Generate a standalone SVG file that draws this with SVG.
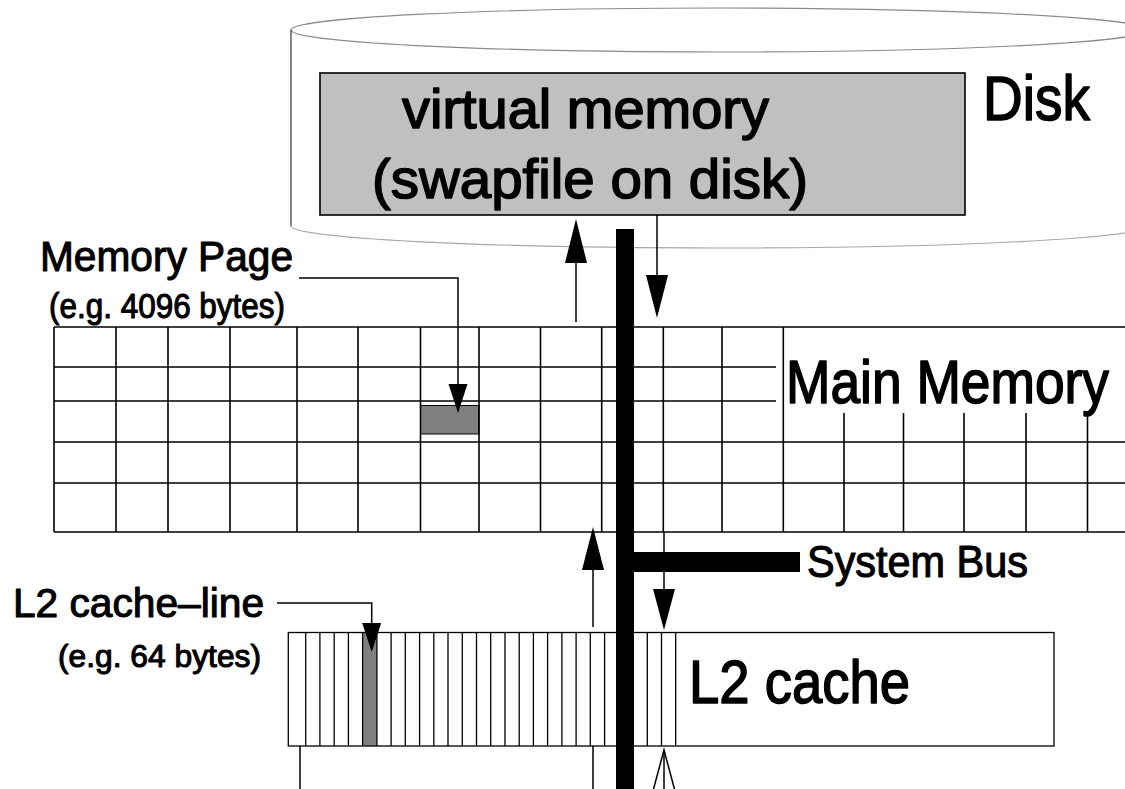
<svg xmlns="http://www.w3.org/2000/svg" width="1125" height="789" viewBox="0 0 1125 789">
<style>
.t{font-family:"Liberation Sans Narrow","Liberation Sans",Arial,sans-serif;fill:#000;stroke:#000;stroke-width:1.6;stroke-linejoin:round}
.sm{stroke-width:1.1}
.g{stroke:#000;stroke-width:1.6;fill:none}
.s{stroke:#000;stroke-width:1.3;fill:none}
.ln{stroke:#000;stroke-width:1.5;fill:none}
.ah{fill:#000;stroke:none}
</style>
<rect width="1125" height="789" fill="#fff"/>
<g id="disk">
<ellipse cx="719" cy="30" rx="428" ry="22" fill="none" stroke="#8a8a8a" stroke-width="1.2"/>
<path d="M291,30 V226" stroke="#333" stroke-width="1.2" fill="none"/>
<path d="M291,226 A428,22 0 0 0 1147,226" stroke="#a8a8a8" stroke-width="1.2" fill="none"/>
<text class="t" x="983" y="120" font-size="63" textLength="107" lengthAdjust="spacingAndGlyphs">Disk</text>
</g>
<g id="virtual-memory">
<rect x="320" y="73" width="645" height="142" fill="#c0c0c0" stroke="#000" stroke-width="1.6"/>
<text class="t" x="402" y="128" font-size="56" textLength="367" lengthAdjust="spacingAndGlyphs">virtual memory</text>
<text class="t" x="372" y="198" font-size="56" textLength="436" lengthAdjust="spacingAndGlyphs">(swapfile on disk)</text>
</g>
<g id="main-memory">
<rect x="420.5" y="405.5" width="58.5" height="28.5" fill="#808080" stroke="#000" stroke-width="1"/>
<path class="g" d="M54,327H1125M54,367H776M54,401H776M54,442H1125M54,483H1125M54,532H1125"/>
<path class="g" d="M54,327V532M116,327V532M168,327V532M230,327V532M297,327V532M358,327V532M420.5,327V532M479,327V532M540.5,327V532M601.7,327V532M663.3,327V532M722,327V532M783.3,327V532"/>
<path class="g" d="M844,413V532M903.5,413V532M964,413V532M1026,413V532M1087.5,413V532"/>
<text class="t" x="786" y="403" font-size="62" textLength="323" lengthAdjust="spacingAndGlyphs">Main Memory</text>
</g>
<g id="memory-page-label">
<text class="t sm" x="40" y="271" font-size="43" textLength="253" lengthAdjust="spacingAndGlyphs">Memory Page</text>
<text class="t sm" x="49" y="318" font-size="35" textLength="236" lengthAdjust="spacingAndGlyphs">(e.g. 4096 bytes)</text>
</g>
<g id="l2-cache">
<rect x="362.6" y="632.5" width="14.3" height="113.5" fill="#808080"/>
<rect x="288.3" y="632.5" width="765.7" height="113.5" class="s"/>
<path class="s" d="M305.7,632.5V746M319.9,632.5V746M334.2,632.5V746M348.4,632.5V746M362.6,632.5V746M376.9,632.5V746M391.1,632.5V746M405.3,632.5V746M419.6,632.5V746M433.8,632.5V746M448,632.5V746M462.3,632.5V746M476.5,632.5V746M490.7,632.5V746M505,632.5V746M519.2,632.5V746M533.4,632.5V746M547.6,632.5V746M561.9,632.5V746M576.1,632.5V746M590.3,632.5V746M604.6,632.5V746M647.3,632.5V746M661.5,632.5V746M675.7,632.5V746"/>
<text class="t" x="689" y="703" font-size="62" textLength="221" lengthAdjust="spacingAndGlyphs">L2 cache</text>
</g>
<g id="l2-cache-line-label">
<text class="t sm" x="13" y="617" font-size="41" textLength="251" lengthAdjust="spacingAndGlyphs">L2 cache–line</text>
<text class="t sm" x="58" y="667" font-size="32" textLength="203" lengthAdjust="spacingAndGlyphs">(e.g. 64 bytes)</text>
</g>
<g id="system-bus">
<rect x="616" y="229" width="18" height="560" fill="#000"/>
<rect x="634" y="552" width="166" height="20" fill="#000"/>
<text class="t sm" x="807" y="577" font-size="44" textLength="221" lengthAdjust="spacingAndGlyphs">System Bus</text>
</g>
<g id="connectors">
<path class="ln" d="M576,322V262"/>
<polygon class="ah" points="576,219 565,263 587,263"/>
<path class="ln" d="M657,215V276"/>
<polygon class="ah" points="657,318 646,275 668,275"/>
<path class="ln" d="M299,278H458V385"/>
<polygon class="ah" points="458,413 448.5,384 467.5,384"/>
<path class="ln" d="M593,627V569"/>
<polygon class="ah" points="593,527 582,570 604,570"/>
<path class="ln" d="M664,532V590"/>
<polygon class="ah" points="664,630 653,589 675,589"/>
<path class="ln" d="M277,603H371.7V624"/>
<polygon class="ah" points="371.7,652 362.2,623 381.2,623"/>
<path class="ln" d="M300,746V789M593,746V789M664,750V789"/>
<path class="ln" d="M653,791L664,750L675,791"/>
</g>
</svg>
